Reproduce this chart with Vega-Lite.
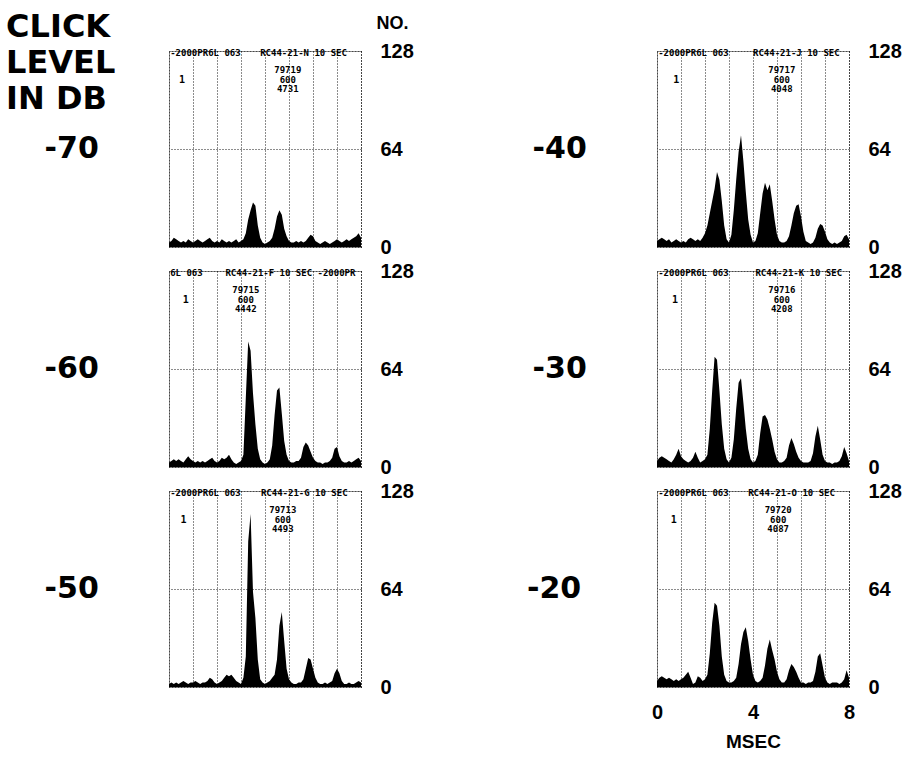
{
  "$schema": "https://vega.github.io/schema/vega-lite/v6.json",
  "background": "white",
  "padding": {"left": 6, "top": 10, "right": 5, "bottom": 5},
  "title": {"text": ["CLICK", "LEVEL", "IN DB"], "anchor": "start", "frame": "bounds", "align": "left", "baseline": "top", "font": "DejaVu Sans", "fontWeight": "bold", "fontSize": 32, "lineHeight": 36, "color": "black", "offset": 0, "dx": -38, "dy": 102},
  "datasets": {
    "head": [
      {"level": "-70", "left": "-2000PR6L 063", "code": "RC44-21-N  10 SEC", "info": "79719|600|4731", "mk": "1"},
      {"level": "-60", "left": "6L 063", "code": "RC44-21-F 10 SEC -2000PR", "info": "79715|600|4442", "mk": "1"},
      {"level": "-50", "left": "-2000PR6L 063", "code": "RC44-21-G  10 SEC", "info": "79713|600|4493", "mk": "1"},
      {"level": "-40", "left": "-2000PR6L 063", "code": "RC44-21-J  10 SEC", "info": "79717|600|4048", "mk": "1"},
      {"level": "-30", "left": "-2000PR6L 063", "code": "RC44-21-K  10 SEC", "info": "79716|600|4208", "mk": "1"},
      {"level": "-20", "left": "-2000PR6L 063", "code": "RC44-21-O  10 SEC", "info": "79720|600|4087", "mk": "1"}
    ],
    "hist": [
      {"level":"-70","ms":0,"count":3},{"level":"-70","ms":0.1,"count":4},{"level":"-70","ms":0.2,"count":6},{"level":"-70","ms":0.3,"count":5},{"level":"-70","ms":0.4,"count":4},{"level":"-70","ms":0.5,"count":3},{"level":"-70","ms":0.6,"count":4},{"level":"-70","ms":0.7,"count":3},{"level":"-70","ms":0.8,"count":5},{"level":"-70","ms":0.9,"count":4},
      {"level":"-70","ms":1,"count":3},{"level":"-70","ms":1.1,"count":4},{"level":"-70","ms":1.2,"count":5},{"level":"-70","ms":1.3,"count":4},{"level":"-70","ms":1.4,"count":3},{"level":"-70","ms":1.5,"count":4},{"level":"-70","ms":1.6,"count":5},{"level":"-70","ms":1.7,"count":6},{"level":"-70","ms":1.8,"count":4},{"level":"-70","ms":1.9,"count":3},
      {"level":"-70","ms":2,"count":4},{"level":"-70","ms":2.1,"count":3},{"level":"-70","ms":2.2,"count":5},{"level":"-70","ms":2.3,"count":4},{"level":"-70","ms":2.4,"count":3},{"level":"-70","ms":2.5,"count":4},{"level":"-70","ms":2.6,"count":3},{"level":"-70","ms":2.7,"count":4},{"level":"-70","ms":2.8,"count":5},{"level":"-70","ms":2.9,"count":3},
      {"level":"-70","ms":3,"count":4},{"level":"-70","ms":3.1,"count":5},{"level":"-70","ms":3.2,"count":9},{"level":"-70","ms":3.3,"count":18},{"level":"-70","ms":3.4,"count":24},{"level":"-70","ms":3.5,"count":29},{"level":"-70","ms":3.6,"count":27},{"level":"-70","ms":3.7,"count":14},{"level":"-70","ms":3.8,"count":6},{"level":"-70","ms":3.9,"count":3},
      {"level":"-70","ms":4,"count":2},{"level":"-70","ms":4.1,"count":3},{"level":"-70","ms":4.2,"count":4},{"level":"-70","ms":4.3,"count":6},{"level":"-70","ms":4.4,"count":12},{"level":"-70","ms":4.5,"count":20},{"level":"-70","ms":4.6,"count":24},{"level":"-70","ms":4.7,"count":21},{"level":"-70","ms":4.8,"count":12},{"level":"-70","ms":4.9,"count":7},
      {"level":"-70","ms":5,"count":4},{"level":"-70","ms":5.1,"count":3},{"level":"-70","ms":5.2,"count":3},{"level":"-70","ms":5.3,"count":4},{"level":"-70","ms":5.4,"count":3},{"level":"-70","ms":5.5,"count":4},{"level":"-70","ms":5.6,"count":3},{"level":"-70","ms":5.7,"count":4},{"level":"-70","ms":5.8,"count":6},{"level":"-70","ms":5.9,"count":8},
      {"level":"-70","ms":6,"count":7},{"level":"-70","ms":6.1,"count":4},{"level":"-70","ms":6.2,"count":3},{"level":"-70","ms":6.3,"count":2},{"level":"-70","ms":6.4,"count":3},{"level":"-70","ms":6.5,"count":4},{"level":"-70","ms":6.6,"count":3},{"level":"-70","ms":6.7,"count":2},{"level":"-70","ms":6.8,"count":3},{"level":"-70","ms":6.9,"count":4},
      {"level":"-70","ms":7,"count":5},{"level":"-70","ms":7.1,"count":4},{"level":"-70","ms":7.2,"count":3},{"level":"-70","ms":7.3,"count":4},{"level":"-70","ms":7.4,"count":5},{"level":"-70","ms":7.5,"count":4},{"level":"-70","ms":7.6,"count":5},{"level":"-70","ms":7.7,"count":6},{"level":"-70","ms":7.8,"count":7},{"level":"-70","ms":7.9,"count":9},
      {"level":"-70","ms":8,"count":6},

      {"level":"-40","ms":0,"count":4},{"level":"-40","ms":0.1,"count":5},{"level":"-40","ms":0.2,"count":6},{"level":"-40","ms":0.3,"count":5},{"level":"-40","ms":0.4,"count":4},{"level":"-40","ms":0.5,"count":5},{"level":"-40","ms":0.6,"count":3},{"level":"-40","ms":0.7,"count":4},{"level":"-40","ms":0.8,"count":5},{"level":"-40","ms":0.9,"count":4},
      {"level":"-40","ms":1,"count":3},{"level":"-40","ms":1.1,"count":4},{"level":"-40","ms":1.2,"count":3},{"level":"-40","ms":1.3,"count":5},{"level":"-40","ms":1.4,"count":6},{"level":"-40","ms":1.5,"count":5},{"level":"-40","ms":1.6,"count":4},{"level":"-40","ms":1.7,"count":5},{"level":"-40","ms":1.8,"count":4},{"level":"-40","ms":1.9,"count":6},
      {"level":"-40","ms":2,"count":9},{"level":"-40","ms":2.1,"count":14},{"level":"-40","ms":2.2,"count":22},{"level":"-40","ms":2.3,"count":30},{"level":"-40","ms":2.4,"count":38},{"level":"-40","ms":2.5,"count":49},{"level":"-40","ms":2.6,"count":44},{"level":"-40","ms":2.7,"count":30},{"level":"-40","ms":2.8,"count":14},{"level":"-40","ms":2.9,"count":5},
      {"level":"-40","ms":3,"count":3},{"level":"-40","ms":3.1,"count":8},{"level":"-40","ms":3.2,"count":24},{"level":"-40","ms":3.3,"count":44},{"level":"-40","ms":3.4,"count":62},{"level":"-40","ms":3.5,"count":73},{"level":"-40","ms":3.6,"count":56},{"level":"-40","ms":3.7,"count":36},{"level":"-40","ms":3.8,"count":18},{"level":"-40","ms":3.9,"count":8},
      {"level":"-40","ms":4,"count":3},{"level":"-40","ms":4.1,"count":4},{"level":"-40","ms":4.2,"count":9},{"level":"-40","ms":4.3,"count":22},{"level":"-40","ms":4.4,"count":35},{"level":"-40","ms":4.5,"count":42},{"level":"-40","ms":4.6,"count":37},{"level":"-40","ms":4.7,"count":41},{"level":"-40","ms":4.8,"count":30},{"level":"-40","ms":4.9,"count":18},
      {"level":"-40","ms":5,"count":8},{"level":"-40","ms":5.1,"count":4},{"level":"-40","ms":5.2,"count":3},{"level":"-40","ms":5.3,"count":3},{"level":"-40","ms":5.4,"count":4},{"level":"-40","ms":5.5,"count":7},{"level":"-40","ms":5.6,"count":14},{"level":"-40","ms":5.7,"count":22},{"level":"-40","ms":5.8,"count":27},{"level":"-40","ms":5.9,"count":28},
      {"level":"-40","ms":6,"count":20},{"level":"-40","ms":6.1,"count":10},{"level":"-40","ms":6.2,"count":4},{"level":"-40","ms":6.3,"count":3},{"level":"-40","ms":6.4,"count":2},{"level":"-40","ms":6.5,"count":3},{"level":"-40","ms":6.6,"count":6},{"level":"-40","ms":6.7,"count":12},{"level":"-40","ms":6.8,"count":15},{"level":"-40","ms":6.9,"count":14},
      {"level":"-40","ms":7,"count":10},{"level":"-40","ms":7.1,"count":5},{"level":"-40","ms":7.2,"count":3},{"level":"-40","ms":7.3,"count":2},{"level":"-40","ms":7.4,"count":3},{"level":"-40","ms":7.5,"count":2},{"level":"-40","ms":7.6,"count":3},{"level":"-40","ms":7.7,"count":4},{"level":"-40","ms":7.8,"count":7},{"level":"-40","ms":7.9,"count":8},
      {"level":"-40","ms":8,"count":5},

      {"level":"-60","ms":0,"count":3},{"level":"-60","ms":0.1,"count":4},{"level":"-60","ms":0.2,"count":5},{"level":"-60","ms":0.3,"count":4},{"level":"-60","ms":0.4,"count":5},{"level":"-60","ms":0.5,"count":4},{"level":"-60","ms":0.6,"count":3},{"level":"-60","ms":0.7,"count":5},{"level":"-60","ms":0.8,"count":7},{"level":"-60","ms":0.9,"count":5},
      {"level":"-60","ms":1,"count":4},{"level":"-60","ms":1.1,"count":3},{"level":"-60","ms":1.2,"count":4},{"level":"-60","ms":1.3,"count":3},{"level":"-60","ms":1.4,"count":4},{"level":"-60","ms":1.5,"count":3},{"level":"-60","ms":1.6,"count":4},{"level":"-60","ms":1.7,"count":5},{"level":"-60","ms":1.8,"count":6},{"level":"-60","ms":1.9,"count":4},
      {"level":"-60","ms":2,"count":3},{"level":"-60","ms":2.1,"count":4},{"level":"-60","ms":2.2,"count":6},{"level":"-60","ms":2.3,"count":5},{"level":"-60","ms":2.4,"count":6},{"level":"-60","ms":2.5,"count":8},{"level":"-60","ms":2.6,"count":5},{"level":"-60","ms":2.7,"count":3},{"level":"-60","ms":2.8,"count":2},{"level":"-60","ms":2.9,"count":3},
      {"level":"-60","ms":3,"count":4},{"level":"-60","ms":3.1,"count":8},{"level":"-60","ms":3.2,"count":45},{"level":"-60","ms":3.3,"count":82},{"level":"-60","ms":3.4,"count":76},{"level":"-60","ms":3.5,"count":48},{"level":"-60","ms":3.6,"count":28},{"level":"-60","ms":3.7,"count":12},{"level":"-60","ms":3.8,"count":5},{"level":"-60","ms":3.9,"count":3},
      {"level":"-60","ms":4,"count":2},{"level":"-60","ms":4.1,"count":3},{"level":"-60","ms":4.2,"count":5},{"level":"-60","ms":4.3,"count":14},{"level":"-60","ms":4.4,"count":34},{"level":"-60","ms":4.5,"count":50},{"level":"-60","ms":4.6,"count":52},{"level":"-60","ms":4.7,"count":35},{"level":"-60","ms":4.8,"count":17},{"level":"-60","ms":4.9,"count":8},
      {"level":"-60","ms":5,"count":4},{"level":"-60","ms":5.1,"count":3},{"level":"-60","ms":5.2,"count":3},{"level":"-60","ms":5.3,"count":4},{"level":"-60","ms":5.4,"count":4},{"level":"-60","ms":5.5,"count":6},{"level":"-60","ms":5.6,"count":13},{"level":"-60","ms":5.7,"count":16},{"level":"-60","ms":5.8,"count":14},{"level":"-60","ms":5.9,"count":10},
      {"level":"-60","ms":6,"count":6},{"level":"-60","ms":6.1,"count":4},{"level":"-60","ms":6.2,"count":3},{"level":"-60","ms":6.3,"count":3},{"level":"-60","ms":6.4,"count":2},{"level":"-60","ms":6.5,"count":3},{"level":"-60","ms":6.6,"count":3},{"level":"-60","ms":6.7,"count":4},{"level":"-60","ms":6.8,"count":6},{"level":"-60","ms":6.9,"count":12},
      {"level":"-60","ms":7,"count":13},{"level":"-60","ms":7.1,"count":7},{"level":"-60","ms":7.2,"count":4},{"level":"-60","ms":7.3,"count":3},{"level":"-60","ms":7.4,"count":3},{"level":"-60","ms":7.5,"count":4},{"level":"-60","ms":7.6,"count":3},{"level":"-60","ms":7.7,"count":4},{"level":"-60","ms":7.8,"count":5},{"level":"-60","ms":7.9,"count":6},
      {"level":"-60","ms":8,"count":4},

      {"level":"-30","ms":0,"count":4},{"level":"-30","ms":0.1,"count":6},{"level":"-30","ms":0.2,"count":7},{"level":"-30","ms":0.3,"count":6},{"level":"-30","ms":0.4,"count":5},{"level":"-30","ms":0.5,"count":4},{"level":"-30","ms":0.6,"count":3},{"level":"-30","ms":0.7,"count":5},{"level":"-30","ms":0.8,"count":8},{"level":"-30","ms":0.9,"count":12},
      {"level":"-30","ms":1,"count":7},{"level":"-30","ms":1.1,"count":5},{"level":"-30","ms":1.2,"count":4},{"level":"-30","ms":1.3,"count":3},{"level":"-30","ms":1.4,"count":4},{"level":"-30","ms":1.5,"count":6},{"level":"-30","ms":1.6,"count":10},{"level":"-30","ms":1.7,"count":6},{"level":"-30","ms":1.8,"count":3},{"level":"-30","ms":1.9,"count":4},
      {"level":"-30","ms":2,"count":5},{"level":"-30","ms":2.1,"count":8},{"level":"-30","ms":2.2,"count":25},{"level":"-30","ms":2.3,"count":50},{"level":"-30","ms":2.4,"count":72},{"level":"-30","ms":2.5,"count":70},{"level":"-30","ms":2.6,"count":50},{"level":"-30","ms":2.7,"count":28},{"level":"-30","ms":2.8,"count":12},{"level":"-30","ms":2.9,"count":5},
      {"level":"-30","ms":3,"count":3},{"level":"-30","ms":3.1,"count":6},{"level":"-30","ms":3.2,"count":18},{"level":"-30","ms":3.3,"count":38},{"level":"-30","ms":3.4,"count":55},{"level":"-30","ms":3.5,"count":58},{"level":"-30","ms":3.6,"count":42},{"level":"-30","ms":3.7,"count":25},{"level":"-30","ms":3.8,"count":12},{"level":"-30","ms":3.9,"count":5},
      {"level":"-30","ms":4,"count":3},{"level":"-30","ms":4.1,"count":4},{"level":"-30","ms":4.2,"count":8},{"level":"-30","ms":4.3,"count":22},{"level":"-30","ms":4.4,"count":33},{"level":"-30","ms":4.5,"count":34},{"level":"-30","ms":4.6,"count":31},{"level":"-30","ms":4.7,"count":25},{"level":"-30","ms":4.8,"count":18},{"level":"-30","ms":4.9,"count":10},
      {"level":"-30","ms":5,"count":5},{"level":"-30","ms":5.1,"count":3},{"level":"-30","ms":5.2,"count":3},{"level":"-30","ms":5.3,"count":4},{"level":"-30","ms":5.4,"count":6},{"level":"-30","ms":5.5,"count":14},{"level":"-30","ms":5.6,"count":19},{"level":"-30","ms":5.7,"count":15},{"level":"-30","ms":5.8,"count":10},{"level":"-30","ms":5.9,"count":6},
      {"level":"-30","ms":6,"count":4},{"level":"-30","ms":6.1,"count":3},{"level":"-30","ms":6.2,"count":3},{"level":"-30","ms":6.3,"count":3},{"level":"-30","ms":6.4,"count":4},{"level":"-30","ms":6.5,"count":9},{"level":"-30","ms":6.6,"count":20},{"level":"-30","ms":6.7,"count":27},{"level":"-30","ms":6.8,"count":18},{"level":"-30","ms":6.9,"count":8},
      {"level":"-30","ms":7,"count":4},{"level":"-30","ms":7.1,"count":3},{"level":"-30","ms":7.2,"count":3},{"level":"-30","ms":7.3,"count":2},{"level":"-30","ms":7.4,"count":3},{"level":"-30","ms":7.5,"count":3},{"level":"-30","ms":7.6,"count":4},{"level":"-30","ms":7.7,"count":7},{"level":"-30","ms":7.8,"count":13},{"level":"-30","ms":7.9,"count":9},
      {"level":"-30","ms":8,"count":4},

      {"level":"-50","ms":0,"count":2},{"level":"-50","ms":0.1,"count":3},{"level":"-50","ms":0.2,"count":2},{"level":"-50","ms":0.3,"count":3},{"level":"-50","ms":0.4,"count":2},{"level":"-50","ms":0.5,"count":3},{"level":"-50","ms":0.6,"count":4},{"level":"-50","ms":0.7,"count":3},{"level":"-50","ms":0.8,"count":2},{"level":"-50","ms":0.9,"count":3},
      {"level":"-50","ms":1,"count":3},{"level":"-50","ms":1.1,"count":4},{"level":"-50","ms":1.2,"count":3},{"level":"-50","ms":1.3,"count":2},{"level":"-50","ms":1.4,"count":3},{"level":"-50","ms":1.5,"count":3},{"level":"-50","ms":1.6,"count":4},{"level":"-50","ms":1.7,"count":6},{"level":"-50","ms":1.8,"count":5},{"level":"-50","ms":1.9,"count":3},
      {"level":"-50","ms":2,"count":2},{"level":"-50","ms":2.1,"count":3},{"level":"-50","ms":2.2,"count":4},{"level":"-50","ms":2.3,"count":6},{"level":"-50","ms":2.4,"count":8},{"level":"-50","ms":2.5,"count":7},{"level":"-50","ms":2.6,"count":8},{"level":"-50","ms":2.7,"count":6},{"level":"-50","ms":2.8,"count":4},{"level":"-50","ms":2.9,"count":3},
      {"level":"-50","ms":3,"count":2},{"level":"-50","ms":3.1,"count":6},{"level":"-50","ms":3.2,"count":20},{"level":"-50","ms":3.3,"count":95},{"level":"-50","ms":3.4,"count":113},{"level":"-50","ms":3.5,"count":62},{"level":"-50","ms":3.6,"count":45},{"level":"-50","ms":3.7,"count":18},{"level":"-50","ms":3.8,"count":5},{"level":"-50","ms":3.9,"count":3},
      {"level":"-50","ms":4,"count":2},{"level":"-50","ms":4.1,"count":3},{"level":"-50","ms":4.2,"count":4},{"level":"-50","ms":4.3,"count":6},{"level":"-50","ms":4.4,"count":8},{"level":"-50","ms":4.5,"count":18},{"level":"-50","ms":4.6,"count":40},{"level":"-50","ms":4.7,"count":49},{"level":"-50","ms":4.8,"count":30},{"level":"-50","ms":4.9,"count":12},
      {"level":"-50","ms":5,"count":5},{"level":"-50","ms":5.1,"count":3},{"level":"-50","ms":5.2,"count":2},{"level":"-50","ms":5.3,"count":2},{"level":"-50","ms":5.4,"count":3},{"level":"-50","ms":5.5,"count":3},{"level":"-50","ms":5.6,"count":5},{"level":"-50","ms":5.7,"count":12},{"level":"-50","ms":5.8,"count":19},{"level":"-50","ms":5.9,"count":18},
      {"level":"-50","ms":6,"count":12},{"level":"-50","ms":6.1,"count":6},{"level":"-50","ms":6.2,"count":3},{"level":"-50","ms":6.3,"count":2},{"level":"-50","ms":6.4,"count":2},{"level":"-50","ms":6.5,"count":3},{"level":"-50","ms":6.6,"count":2},{"level":"-50","ms":6.7,"count":3},{"level":"-50","ms":6.8,"count":4},{"level":"-50","ms":6.9,"count":9},
      {"level":"-50","ms":7,"count":12},{"level":"-50","ms":7.1,"count":9},{"level":"-50","ms":7.2,"count":4},{"level":"-50","ms":7.3,"count":2},{"level":"-50","ms":7.4,"count":2},{"level":"-50","ms":7.5,"count":3},{"level":"-50","ms":7.6,"count":2},{"level":"-50","ms":7.7,"count":2},{"level":"-50","ms":7.8,"count":3},{"level":"-50","ms":7.9,"count":4},
      {"level":"-50","ms":8,"count":3},

      {"level":"-20","ms":0,"count":4},{"level":"-20","ms":0.1,"count":6},{"level":"-20","ms":0.2,"count":7},{"level":"-20","ms":0.3,"count":6},{"level":"-20","ms":0.4,"count":5},{"level":"-20","ms":0.5,"count":6},{"level":"-20","ms":0.6,"count":5},{"level":"-20","ms":0.7,"count":4},{"level":"-20","ms":0.8,"count":5},{"level":"-20","ms":0.9,"count":4},
      {"level":"-20","ms":1,"count":5},{"level":"-20","ms":1.1,"count":6},{"level":"-20","ms":1.2,"count":8},{"level":"-20","ms":1.3,"count":10},{"level":"-20","ms":1.4,"count":6},{"level":"-20","ms":1.5,"count":2},{"level":"-20","ms":1.6,"count":3},{"level":"-20","ms":1.7,"count":7},{"level":"-20","ms":1.8,"count":6},{"level":"-20","ms":1.9,"count":4},
      {"level":"-20","ms":2,"count":5},{"level":"-20","ms":2.1,"count":8},{"level":"-20","ms":2.2,"count":22},{"level":"-20","ms":2.3,"count":42},{"level":"-20","ms":2.4,"count":55},{"level":"-20","ms":2.5,"count":53},{"level":"-20","ms":2.6,"count":40},{"level":"-20","ms":2.7,"count":20},{"level":"-20","ms":2.8,"count":8},{"level":"-20","ms":2.9,"count":4},
      {"level":"-20","ms":3,"count":3},{"level":"-20","ms":3.1,"count":3},{"level":"-20","ms":3.2,"count":4},{"level":"-20","ms":3.3,"count":6},{"level":"-20","ms":3.4,"count":15},{"level":"-20","ms":3.5,"count":28},{"level":"-20","ms":3.6,"count":36},{"level":"-20","ms":3.7,"count":39},{"level":"-20","ms":3.8,"count":30},{"level":"-20","ms":3.9,"count":18},
      {"level":"-20","ms":4,"count":8},{"level":"-20","ms":4.1,"count":4},{"level":"-20","ms":4.2,"count":3},{"level":"-20","ms":4.3,"count":4},{"level":"-20","ms":4.4,"count":6},{"level":"-20","ms":4.5,"count":14},{"level":"-20","ms":4.6,"count":25},{"level":"-20","ms":4.7,"count":31},{"level":"-20","ms":4.8,"count":24},{"level":"-20","ms":4.9,"count":18},
      {"level":"-20","ms":5,"count":10},{"level":"-20","ms":5.1,"count":5},{"level":"-20","ms":5.2,"count":3},{"level":"-20","ms":5.3,"count":3},{"level":"-20","ms":5.4,"count":5},{"level":"-20","ms":5.5,"count":11},{"level":"-20","ms":5.6,"count":15},{"level":"-20","ms":5.7,"count":13},{"level":"-20","ms":5.8,"count":10},{"level":"-20","ms":5.9,"count":6},
      {"level":"-20","ms":6,"count":3},{"level":"-20","ms":6.1,"count":3},{"level":"-20","ms":6.2,"count":2},{"level":"-20","ms":6.3,"count":3},{"level":"-20","ms":6.4,"count":3},{"level":"-20","ms":6.5,"count":4},{"level":"-20","ms":6.6,"count":10},{"level":"-20","ms":6.7,"count":20},{"level":"-20","ms":6.8,"count":22},{"level":"-20","ms":6.9,"count":14},
      {"level":"-20","ms":7,"count":6},{"level":"-20","ms":7.1,"count":3},{"level":"-20","ms":7.2,"count":2},{"level":"-20","ms":7.3,"count":3},{"level":"-20","ms":7.4,"count":3},{"level":"-20","ms":7.5,"count":3},{"level":"-20","ms":7.6,"count":2},{"level":"-20","ms":7.7,"count":3},{"level":"-20","ms":7.8,"count":5},{"level":"-20","ms":7.9,"count":11},
      {"level":"-20","ms":8,"count":6}
    ]
  },
  "columns": 2,
  "spacing": {"row": 24, "column": 296},
  "bounds": "flush",
  "concat": [
    {
      "width": 192, "height": 196,
      "title": {"text": "-70", "orient": "left", "angle": 0, "align": "right", "baseline": "middle", "anchor": "middle", "frame": "group", "offset": 16, "font": "DejaVu Sans", "fontWeight": "bold", "fontSize": 30, "color": "black"},
      "layer": [
        {"data": {"name": "hist"}, "transform": [{"filter": "datum.level === '-70'"}],
         "mark": {"type": "area", "color": "black", "opacity": 1},
         "encoding": {
           "x": {"field": "ms", "type": "quantitative", "scale": {"domain": [0, 8], "nice": false}, "axis": {"values": [0,1,2,3,4,5,6,7,8], "tickCount": 10, "labels": false, "title": null}},
           "y": {"field": "count", "type": "quantitative", "scale": {"domain": [0, 128], "nice": false}, "axis": {"orient": "right", "values": [0, 64, 128], "title": "NO.", "titleAngle": 0, "titleAlign": "left", "titleBaseline": "middle", "titleX": 15, "titleY": -28}}
         }},
        {"data": {"name": "head"}, "transform": [{"filter": "datum.level === '-70'"}], "mark": {"type": "text", "align": "left"}, "encoding": {"x": {"datum": 0.05}, "y": {"datum": 126.4}, "text": {"field": "left"}}},
        {"data": {"name": "head"}, "transform": [{"filter": "datum.level === '-70'"}], "mark": {"type": "text", "align": "left"}, "encoding": {"x": {"datum": 3.8}, "y": {"datum": 126.4}, "text": {"field": "code"}}},
        {"data": {"name": "head"}, "transform": [{"filter": "datum.level === '-70'"}], "mark": {"type": "text", "align": "center", "lineBreak": "|", "lineHeight": 9.5}, "encoding": {"x": {"datum": 4.95}, "y": {"datum": 115.3}, "text": {"field": "info"}}},
        {"data": {"name": "head"}, "transform": [{"filter": "datum.level === '-70'"}], "mark": {"type": "text", "align": "center", "fontSize": 10}, "encoding": {"x": {"datum": 0.54}, "y": {"datum": 109}, "text": {"field": "mk"}}}
      ]
    },
    {
      "width": 192, "height": 196,
      "title": {"text": "-40", "orient": "left", "angle": 0, "align": "right", "baseline": "middle", "anchor": "middle", "frame": "group", "offset": 16, "font": "DejaVu Sans", "fontWeight": "bold", "fontSize": 30, "color": "black"},
      "layer": [
        {"data": {"name": "hist"}, "transform": [{"filter": "datum.level === '-40'"}],
         "mark": {"type": "area", "color": "black", "opacity": 1},
         "encoding": {
           "x": {"field": "ms", "type": "quantitative", "scale": {"domain": [0, 8], "nice": false}, "axis": {"values": [0,1,2,3,4,5,6,7,8], "tickCount": 10, "labels": false, "title": null}},
           "y": {"field": "count", "type": "quantitative", "scale": {"domain": [0, 128], "nice": false}, "axis": {"orient": "right", "values": [0, 64, 128], "title": null}}
         }},
        {"data": {"name": "head"}, "transform": [{"filter": "datum.level === '-40'"}], "mark": {"type": "text", "align": "left"}, "encoding": {"x": {"datum": 0.05}, "y": {"datum": 126.4}, "text": {"field": "left"}}},
        {"data": {"name": "head"}, "transform": [{"filter": "datum.level === '-40'"}], "mark": {"type": "text", "align": "left"}, "encoding": {"x": {"datum": 4.0}, "y": {"datum": 126.4}, "text": {"field": "code"}}},
        {"data": {"name": "head"}, "transform": [{"filter": "datum.level === '-40'"}], "mark": {"type": "text", "align": "center", "lineBreak": "|", "lineHeight": 9.5}, "encoding": {"x": {"datum": 5.2}, "y": {"datum": 115.3}, "text": {"field": "info"}}},
        {"data": {"name": "head"}, "transform": [{"filter": "datum.level === '-40'"}], "mark": {"type": "text", "align": "center", "fontSize": 10}, "encoding": {"x": {"datum": 0.8}, "y": {"datum": 109}, "text": {"field": "mk"}}}
      ]
    },
    {
      "width": 192, "height": 196,
      "title": {"text": "-60", "orient": "left", "angle": 0, "align": "right", "baseline": "middle", "anchor": "middle", "frame": "group", "offset": 16, "font": "DejaVu Sans", "fontWeight": "bold", "fontSize": 30, "color": "black"},
      "layer": [
        {"data": {"name": "hist"}, "transform": [{"filter": "datum.level === '-60'"}],
         "mark": {"type": "area", "color": "black", "opacity": 1},
         "encoding": {
           "x": {"field": "ms", "type": "quantitative", "scale": {"domain": [0, 8], "nice": false}, "axis": {"values": [0,1,2,3,4,5,6,7,8], "tickCount": 10, "labels": false, "title": null}},
           "y": {"field": "count", "type": "quantitative", "scale": {"domain": [0, 128], "nice": false}, "axis": {"orient": "right", "values": [0, 64, 128], "title": null}}
         }},
        {"data": {"name": "head"}, "transform": [{"filter": "datum.level === '-60'"}], "mark": {"type": "text", "align": "left"}, "encoding": {"x": {"datum": 0.05}, "y": {"datum": 126.4}, "text": {"field": "left"}}},
        {"data": {"name": "head"}, "transform": [{"filter": "datum.level === '-60'"}], "mark": {"type": "text", "align": "left"}, "encoding": {"x": {"datum": 2.35}, "y": {"datum": 126.4}, "text": {"field": "code"}}},
        {"data": {"name": "head"}, "transform": [{"filter": "datum.level === '-60'"}], "mark": {"type": "text", "align": "center", "lineBreak": "|", "lineHeight": 9.5}, "encoding": {"x": {"datum": 3.2}, "y": {"datum": 115.3}, "text": {"field": "info"}}},
        {"data": {"name": "head"}, "transform": [{"filter": "datum.level === '-60'"}], "mark": {"type": "text", "align": "center", "fontSize": 10}, "encoding": {"x": {"datum": 0.7}, "y": {"datum": 109}, "text": {"field": "mk"}}}
      ]
    },
    {
      "width": 192, "height": 196,
      "title": {"text": "-30", "orient": "left", "angle": 0, "align": "right", "baseline": "middle", "anchor": "middle", "frame": "group", "offset": 16, "font": "DejaVu Sans", "fontWeight": "bold", "fontSize": 30, "color": "black"},
      "layer": [
        {"data": {"name": "hist"}, "transform": [{"filter": "datum.level === '-30'"}],
         "mark": {"type": "area", "color": "black", "opacity": 1},
         "encoding": {
           "x": {"field": "ms", "type": "quantitative", "scale": {"domain": [0, 8], "nice": false}, "axis": {"values": [0,1,2,3,4,5,6,7,8], "tickCount": 10, "labels": false, "title": null}},
           "y": {"field": "count", "type": "quantitative", "scale": {"domain": [0, 128], "nice": false}, "axis": {"orient": "right", "values": [0, 64, 128], "title": null}}
         }},
        {"data": {"name": "head"}, "transform": [{"filter": "datum.level === '-30'"}], "mark": {"type": "text", "align": "left"}, "encoding": {"x": {"datum": 0.05}, "y": {"datum": 126.4}, "text": {"field": "left"}}},
        {"data": {"name": "head"}, "transform": [{"filter": "datum.level === '-30'"}], "mark": {"type": "text", "align": "left"}, "encoding": {"x": {"datum": 4.1}, "y": {"datum": 126.4}, "text": {"field": "code"}}},
        {"data": {"name": "head"}, "transform": [{"filter": "datum.level === '-30'"}], "mark": {"type": "text", "align": "center", "lineBreak": "|", "lineHeight": 9.5}, "encoding": {"x": {"datum": 5.2}, "y": {"datum": 115.3}, "text": {"field": "info"}}},
        {"data": {"name": "head"}, "transform": [{"filter": "datum.level === '-30'"}], "mark": {"type": "text", "align": "center", "fontSize": 10}, "encoding": {"x": {"datum": 0.75}, "y": {"datum": 109}, "text": {"field": "mk"}}}
      ]
    },
    {
      "width": 192, "height": 196,
      "title": {"text": "-50", "orient": "left", "angle": 0, "align": "right", "baseline": "middle", "anchor": "middle", "frame": "group", "offset": 16, "font": "DejaVu Sans", "fontWeight": "bold", "fontSize": 30, "color": "black"},
      "layer": [
        {"data": {"name": "hist"}, "transform": [{"filter": "datum.level === '-50'"}],
         "mark": {"type": "area", "color": "black", "opacity": 1},
         "encoding": {
           "x": {"field": "ms", "type": "quantitative", "scale": {"domain": [0, 8], "nice": false}, "axis": {"values": [0,1,2,3,4,5,6,7,8], "tickCount": 10, "labels": false, "title": null}},
           "y": {"field": "count", "type": "quantitative", "scale": {"domain": [0, 128], "nice": false}, "axis": {"orient": "right", "values": [0, 64, 128], "title": null}}
         }},
        {"data": {"name": "head"}, "transform": [{"filter": "datum.level === '-50'"}], "mark": {"type": "text", "align": "left"}, "encoding": {"x": {"datum": 0.05}, "y": {"datum": 126.4}, "text": {"field": "left"}}},
        {"data": {"name": "head"}, "transform": [{"filter": "datum.level === '-50'"}], "mark": {"type": "text", "align": "left"}, "encoding": {"x": {"datum": 3.83}, "y": {"datum": 126.4}, "text": {"field": "code"}}},
        {"data": {"name": "head"}, "transform": [{"filter": "datum.level === '-50'"}], "mark": {"type": "text", "align": "center", "lineBreak": "|", "lineHeight": 9.5}, "encoding": {"x": {"datum": 4.74}, "y": {"datum": 115.3}, "text": {"field": "info"}}},
        {"data": {"name": "head"}, "transform": [{"filter": "datum.level === '-50'"}], "mark": {"type": "text", "align": "center", "fontSize": 10}, "encoding": {"x": {"datum": 0.6}, "y": {"datum": 109}, "text": {"field": "mk"}}}
      ]
    },
    {
      "width": 192, "height": 196,
      "title": {"text": "-20", "orient": "left", "angle": 0, "align": "right", "baseline": "middle", "anchor": "middle", "frame": "group", "offset": 16, "font": "DejaVu Sans", "fontWeight": "bold", "fontSize": 30, "color": "black"},
      "layer": [
        {"data": {"name": "hist"}, "transform": [{"filter": "datum.level === '-20'"}],
         "mark": {"type": "area", "color": "black", "opacity": 1},
         "encoding": {
           "x": {"field": "ms", "type": "quantitative", "scale": {"domain": [0, 8], "nice": false}, "axis": {"values": [0,1,2,3,4,5,6,7,8], "tickCount": 10, "labelExpr": "datum.value % 4 === 0 ? datum.label : ''", "labelPadding": 15, "labelFontSize": 20, "title": "MSEC", "titlePadding": 10, "titleFontSize": 19}},
           "y": {"field": "count", "type": "quantitative", "scale": {"domain": [0, 128], "nice": false}, "axis": {"orient": "right", "values": [0, 64, 128], "title": null}}
         }},
        {"data": {"name": "head"}, "transform": [{"filter": "datum.level === '-20'"}], "mark": {"type": "text", "align": "left"}, "encoding": {"x": {"datum": 0.05}, "y": {"datum": 126.4}, "text": {"field": "left"}}},
        {"data": {"name": "head"}, "transform": [{"filter": "datum.level === '-20'"}], "mark": {"type": "text", "align": "left"}, "encoding": {"x": {"datum": 3.8}, "y": {"datum": 126.4}, "text": {"field": "code"}}},
        {"data": {"name": "head"}, "transform": [{"filter": "datum.level === '-20'"}], "mark": {"type": "text", "align": "center", "lineBreak": "|", "lineHeight": 9.5}, "encoding": {"x": {"datum": 5.05}, "y": {"datum": 115.3}, "text": {"field": "info"}}},
        {"data": {"name": "head"}, "transform": [{"filter": "datum.level === '-20'"}], "mark": {"type": "text", "align": "center", "fontSize": 10}, "encoding": {"x": {"datum": 0.7}, "y": {"datum": 109}, "text": {"field": "mk"}}}
      ]
    }
  ],
  "config": {
    "view": {"stroke": "black", "strokeDash": [1, 2], "strokeWidth": 1},
    "axis": {"grid": true, "gridColor": "black", "gridDash": [1, 2], "gridWidth": 1, "gridOpacity": 0.9, "ticks": false, "domain": false, "labelColor": "black", "labelFont": "Liberation Sans", "labelFontWeight": "bold", "labelFontSize": 20, "labelPadding": 19, "labelOverlap": false, "labelFlush": false, "titleColor": "black", "titleFont": "Liberation Sans", "titleFontWeight": "bold", "titleFontSize": 18},
    "axisRight": {"labelAlign": "left", "labelBaseline": "middle"},
    "text": {"font": "DejaVu Sans Mono", "fontWeight": "bold", "fontSize": 9, "color": "black", "baseline": "middle"}
  }
}
